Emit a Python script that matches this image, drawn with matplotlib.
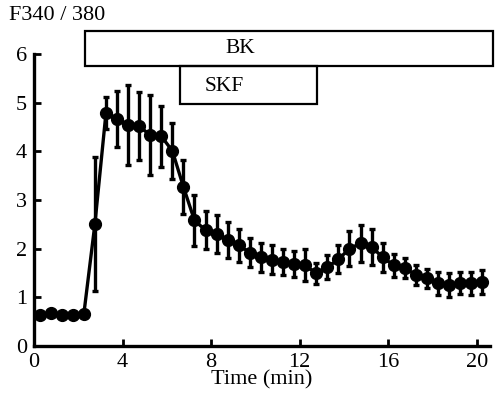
import numpy as np
import matplotlib.pyplot as plt
from matplotlib.patches import Rectangle

plt.rcParams['font.family'] = ['Liberation Serif', 'DejaVu Serif']

# time (min), ratio F340/380 and its error bar
time = np.arange(0.25, 20.26, 0.5)
ratio = [0.64, 0.67, 0.64, 0.64, 0.65, 2.50, 4.78, 4.66, 4.54, 4.52,
         4.33, 4.31, 4.01, 3.27, 2.58, 2.38, 2.30, 2.18, 2.07, 1.92,
         1.82, 1.77, 1.73, 1.68, 1.66, 1.49, 1.62, 1.78, 2.00, 2.11,
         2.04, 1.82, 1.66, 1.60, 1.46, 1.39, 1.29, 1.25, 1.29, 1.29, 1.32]
err = [0.03, 0.03, 0.03, 0.03, 0.03, 1.38, 0.33, 0.58, 0.83, 0.70,
       0.82, 0.63, 0.57, 0.55, 0.53, 0.39, 0.39, 0.37, 0.34, 0.30,
       0.30, 0.30, 0.27, 0.27, 0.33, 0.22, 0.24, 0.29, 0.36, 0.38,
       0.37, 0.29, 0.24, 0.21, 0.21, 0.20, 0.24, 0.25, 0.23, 0.24, 0.25]

# treatment bars: (label, start, end)
bk_bar = ("BK", 2.3, 20.73)
skf_bar = ("SKF", 6.6, 12.77)

fig = plt.figure(figsize=(4.96, 3.94), dpi=100)
ax = fig.add_axes([0.0685, 0.1218, 0.9195, 0.7412])

ax.errorbar(time, ratio, yerr=err, color='black', lw=2.4, marker='o',
            markersize=8.5, elinewidth=2.4, capsize=2.5, capthick=2.4)

# boxes above the trace
ax.add_patch(Rectangle((bk_bar[1], 5.76), bk_bar[2] - bk_bar[1], 0.71,
                       fill=False, lw=1.6, ec='black', clip_on=False))
ax.text(9.3, 6.11, bk_bar[0], ha='center', va='center', fontsize=15.5)
ax.add_patch(Rectangle((skf_bar[1], 4.98), skf_bar[2] - skf_bar[1], 0.78,
                       fill=False, lw=1.6, ec='black', clip_on=False))
ax.text(8.6, 5.33, skf_bar[0], ha='center', va='center', fontsize=15.5)

ax.set_xlim(0, 20.6)
ax.set_ylim(0, 6)
ax.set_xticks([0, 4, 8, 12, 16, 20])
ax.set_yticks([0, 1, 2, 3, 4, 5, 6])
ax.spines['top'].set_visible(False)
ax.spines['right'].set_visible(False)
for s in ['left', 'bottom']:
    ax.spines[s].set_linewidth(2.4)
ax.tick_params(direction='in', length=5, width=2, labelsize=16, pad=5)
ax.set_xlabel('Time (min)', fontsize=16, labelpad=-1)
fig.text(9 / 496, 1 - 16 / 394, 'F340 / 380', ha='left', va='center', fontsize=16)

fig.savefig('out.png', dpi=100)
